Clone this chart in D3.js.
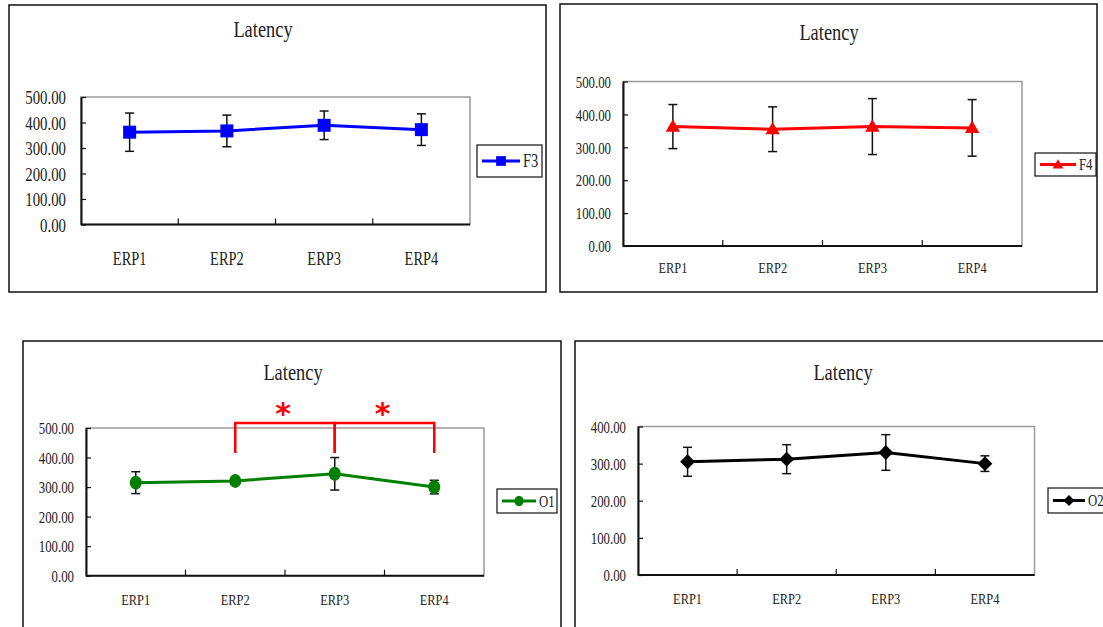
<!DOCTYPE html>
<html>
<head>
<meta charset="utf-8">
<script src="https://cdn.jsdelivr.net/npm/d3@7"></script>
<style>
  body { margin: 0; background: #fff; }
  svg { display: block; }
  text { font-family: "Liberation Serif", "DejaVu Serif", serif; fill: #222; }
</style>
</head>
<body>
<div id="chart"></div>
<script>
// ---- data ----
var categories = ["ERP1", "ERP2", "ERP3", "ERP4"];

var f3Mean = [362, 367, 389, 372];
var f3Err  = [75, 62, 56, 62];

var f4Mean = [363, 355, 363, 359];
var f4Err  = [67, 68, 85, 86];

var o1Mean = [315, 321, 345, 300];
var o1Err  = [37, 8, 55, 23];

var o2Mean = [305, 312, 330, 300];
var o2Err  = [39, 39, 48, 21];

var ticks500 = [0, 100, 200, 300, 400, 500];
var ticks400 = [0, 100, 200, 300, 400];

// significant pairs on the O1 panel
var o1Sig = [["ERP2", "ERP3"], ["ERP3", "ERP4"]];

var svg = d3.select("#chart").append("svg")
  .attr("width", 1103)
  .attr("height", 627);

var SX = 0.8; // the original font is a narrow serif

function label(g, x, y, str, size, anchor) {
  return g.append("text")
    .attr("transform", "translate(" + x + "," + y + ") scale(" + SX + ",1)")
    .attr("text-anchor", anchor || "middle")
    .style("font-size", size + "px")
    .text(str);
}

function drawPanel(p) {
  var g = svg.append("g");

  // outer frame
  g.append("rect")
    .attr("x", p.frame[0]).attr("y", p.frame[1])
    .attr("width", p.frame[2] - p.frame[0]).attr("height", p.frame[3] - p.frame[1])
    .attr("fill", "#fff").attr("stroke", "#111").attr("stroke-width", 1.5);

  label(g, p.titleX, p.titleY, "Latency", 23);

  var x = d3.scaleBand().domain(categories).range([p.plot[0], p.plot[2]]);
  var y = d3.scaleLinear().domain([0, d3.max(p.ticks)]).range([p.plot[3], p.plot[1]]);

  // plot area: gray top/right, black left/bottom
  g.append("rect")
    .attr("x", p.plot[0]).attr("y", p.plot[1])
    .attr("width", p.plot[2] - p.plot[0]).attr("height", p.plot[3] - p.plot[1])
    .attr("fill", "#fff").attr("stroke", "#9a9a9a").attr("stroke-width", 1.5);

  var yAxis = g.append("g")
    .attr("transform", "translate(" + p.plot[0] + ",0)")
    .call(d3.axisLeft(y).tickValues(p.ticks).tickFormat(d3.format(".2f"))
      .tickSizeInner(-5).tickSizeOuter(0));
  yAxis.select(".domain").attr("stroke", "#111").attr("stroke-width", 2);
  yAxis.selectAll(".tick line").attr("stroke", "#111").attr("stroke-width", 1.2);
  yAxis.selectAll(".tick text")
    .attr("x", null).attr("dy", null)
    .attr("transform", "translate(" + (-p.tickGap) + "," + (p.tickSize * 0.36) + ") scale(" + SX + ",1)")
    .attr("fill", "#222")
    .style("font-family", "Liberation Serif")
    .style("font-size", p.tickSize + "px");

  // x axis
  g.append("line")
    .attr("x1", p.plot[0]).attr("x2", p.plot[2])
    .attr("y1", p.plot[3]).attr("y2", p.plot[3])
    .attr("stroke", "#111").attr("stroke-width", 2);
  g.selectAll(".xtick")
    .data(categories.slice(1))
    .enter().append("line")
    .attr("x1", function(d) { return x(d); })
    .attr("x2", function(d) { return x(d); })
    .attr("y1", p.plot[3]).attr("y2", p.plot[3] - 6)
    .attr("stroke", "#111").attr("stroke-width", 1.2);
  categories.forEach(function(c) {
    label(g, x(c) + x.bandwidth() / 2, p.plot[3] + p.xLabelGap, c, p.xSize);
  });

  var cx = function(i) { return x(categories[i]) + x.bandwidth() / 2; };

  // error bars
  var eb = g.selectAll(".err")
    .data(p.mean)
    .enter().append("g");
  eb.append("line")
    .attr("x1", function(d, i) { return cx(i); })
    .attr("x2", function(d, i) { return cx(i); })
    .attr("y1", function(d, i) { return y(d + p.err[i]); })
    .attr("y2", function(d, i) { return y(d - p.err[i]); })
    .attr("stroke", "#111").attr("stroke-width", 1.5);
  [1, -1].forEach(function(s) {
    eb.append("line")
      .attr("x1", function(d, i) { return cx(i) - 4.5; })
      .attr("x2", function(d, i) { return cx(i) + 4.5; })
      .attr("y1", function(d, i) { return y(d + s * p.err[i]); })
      .attr("y2", function(d, i) { return y(d + s * p.err[i]); })
      .attr("stroke", "#111").attr("stroke-width", 1.5);
  });

  // series line
  var line = d3.line()
    .x(function(d, i) { return cx(i); })
    .y(function(d) { return y(d); });
  g.append("path")
    .datum(p.mean)
    .attr("d", line)
    .attr("fill", "none")
    .attr("stroke", p.color)
    .attr("stroke-width", 3);

  // markers
  p.mean.forEach(function(d, i) {
    marker(g, cx(i), y(d), p);
  });

  // legend
  var L = p.legend;
  g.append("rect")
    .attr("x", L[0]).attr("y", L[1]).attr("width", L[2]).attr("height", L[3])
    .attr("fill", "#fff").attr("stroke", "#111").attr("stroke-width", 1.2);
  var ly = L[1] + L[3] / 2;
  g.append("line")
    .attr("x1", L[0] + 5).attr("x2", L[0] + 5 + p.legLine)
    .attr("y1", ly).attr("y2", ly)
    .attr("stroke", p.color).attr("stroke-width", 3);
  marker(g, L[0] + 5 + p.legLine / 2, ly, p, 0.75);
  label(g, L[0] + 8 + p.legLine, ly + p.legSize * 0.35, p.name, p.legSize, "start");

  return { g: g, x: x, y: y };
}

function marker(g, mx, my, p, k) {
  k = k || 1;
  if (p.shape === "circle") {
    g.append("ellipse")
      .attr("cx", mx).attr("cy", my)
      .attr("rx", 6 * k).attr("ry", 7 * k)
      .attr("fill", p.color);
    return;
  }
  var sym, rot = 0, dy = 0;
  if (p.shape === "square") sym = d3.symbol(d3.symbolSquare, 169 * k * k);
  if (p.shape === "triangle") { sym = d3.symbol(d3.symbolTriangle, 90 * k * k); dy = 1; }
  if (p.shape === "diamond") { sym = d3.symbol(d3.symbolSquare, 110 * k * k); rot = 45; }
  g.append("path")
    .attr("d", sym())
    .attr("transform", "translate(" + mx + "," + (my + dy) + ") rotate(" + rot + ")")
    .attr("fill", p.color);
}

// ---- panels ----
drawPanel({
  name: "F3", mean: f3Mean, err: f3Err, color: "#0000ff", shape: "square",
  frame: [9, 5, 546, 292], plot: [81, 97, 470, 224.5], ticks: ticks500,
  titleX: 263, titleY: 37, tickSize: 18.5, tickGap: 15, xSize: 18, xLabelGap: 40,
  legend: [477, 145, 65, 32], legLine: 38, legSize: 18
});

drawPanel({
  name: "F4", mean: f4Mean, err: f4Err, color: "#ff0000", shape: "triangle",
  frame: [560, 4, 1097, 292], plot: [623, 81.5, 1022, 246], ticks: ticks500,
  titleX: 829, titleY: 40, tickSize: 16, tickGap: 12, xSize: 15.5, xLabelGap: 27,
  legend: [1035, 153, 61, 23], legLine: 36, legSize: 16
});

var o1 = drawPanel({
  name: "O1", mean: o1Mean, err: o1Err, color: "#008000", shape: "circle",
  frame: [23, 341, 561, 640], plot: [86, 428, 484, 575.7], ticks: ticks500,
  titleX: 293, titleY: 380, tickSize: 16, tickGap: 12, xSize: 15.5, xLabelGap: 29,
  legend: [497, 489, 60, 24], legLine: 34, legSize: 16
});

drawPanel({
  name: "O2", mean: o2Mean, err: o2Err, color: "#000000", shape: "diamond",
  frame: [575, 341, 1120, 640], plot: [638, 426.5, 1034.5, 575], ticks: ticks400,
  titleX: 843, titleY: 380, tickSize: 16, tickGap: 12, xSize: 15.5, xLabelGap: 29,
  legend: [1048, 488, 80, 25], legLine: 32, legSize: 16
});

// significance brackets on O1
var bx = function(c) { return o1.x(c) + o1.x.bandwidth() / 2; };
var bTop = o1.y.range()[1] - 5, bBot = bTop + 30;
o1Sig.forEach(function(pair) {
  var x1 = bx(pair[0]), x2 = bx(pair[1]);
  o1.g.append("path")
    .attr("d", "M" + x1 + "," + bBot + "V" + bTop + "H" + x2 + "V" + bBot)
    .attr("fill", "none").attr("stroke", "#ff0000").attr("stroke-width", 2.5);
  o1.g.append("text")
    .attr("x", (x1 + x2) / 2 - 2).attr("y", bTop + 1)
    .attr("text-anchor", "middle")
    .style("font-family", "DejaVu Sans")
    .style("font-weight", "bold")
    .style("font-size", "30px")
    .style("fill", "#ff0000")
    .text("*");
});
</script>
</body>
</html>
